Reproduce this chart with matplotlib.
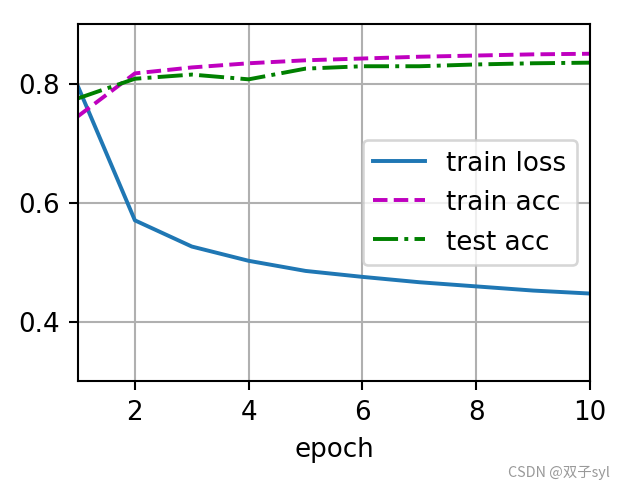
import matplotlib
matplotlib.use("Agg")
import matplotlib.pyplot as plt

epochs = [1, 2, 3, 4, 5, 6, 7, 8, 9, 10]
train_loss = [0.795, 0.570, 0.526, 0.502, 0.485, 0.475, 0.466, 0.459, 0.452, 0.447]
train_acc = [0.745, 0.817, 0.827, 0.834, 0.839, 0.842, 0.845, 0.847, 0.849, 0.850]
test_acc = [0.775, 0.808, 0.815, 0.807, 0.825, 0.829, 0.829, 0.832, 0.834, 0.835]

dpi = 188
fig = plt.figure(figsize=(625 / dpi, 490 / dpi), dpi=dpi)
ax = fig.add_axes([78 / 625, 1 - 382 / 490, (590 - 78) / 625, (382 - 25) / 490])

ax.plot(epochs, train_loss, '-', color='#1f77b4', label='train loss')
ax.plot(epochs, train_acc, 'm--', label='train acc')
ax.plot(epochs, test_acc, 'g-.', label='test acc')

ax.set_xlim(1, 10)
ax.set_ylim(0.3, 0.9)
ax.set_xticks([2, 4, 6, 8, 10])
ax.set_yticks([0.4, 0.6, 0.8])
ax.set_xlabel('epoch')
ax.grid(True)
ax.legend(loc='center right', bbox_to_anchor=(1.0, 0.5))

fig.text(610 / 625, 1 - 473 / 490, 'CSDN @双子syl', ha='right', va='center',
         fontsize=5.5, color='#999999', family=['Noto Sans CJK SC', 'DejaVu Sans'])

fig.savefig('out.png', dpi=dpi)
